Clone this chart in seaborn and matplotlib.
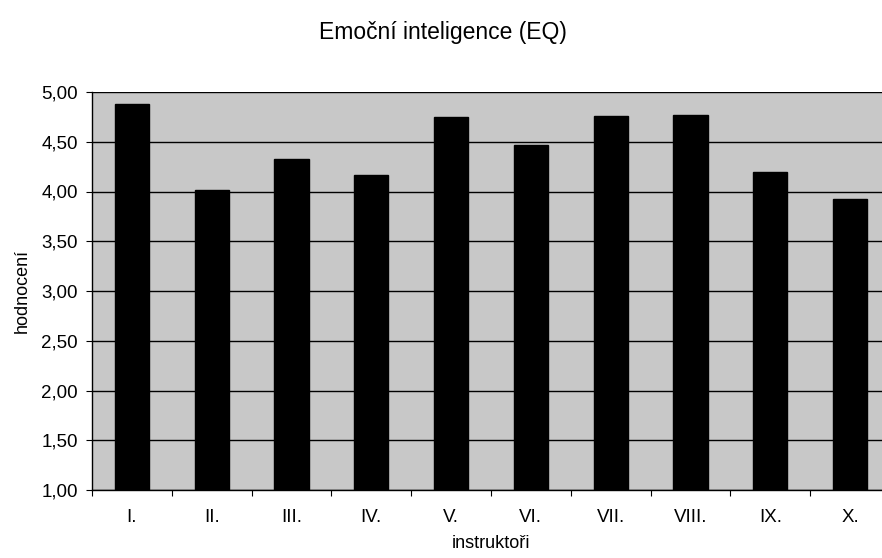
import matplotlib
matplotlib.use("Agg")
import matplotlib.pyplot as plt
import seaborn as sns
import pandas as pd
import numpy as np
from matplotlib.ticker import FixedLocator, FuncFormatter

# Hodnocení emoční inteligence jednotlivých instruktorů
instruktori = ["I.", "II.", "III.", "IV.", "V.", "VI.", "VII.", "VIII.", "IX.", "X."]
hodnoceni = [4.88, 4.02, 4.33, 4.17, 4.75, 4.47, 4.76, 4.77, 4.20, 3.92]
y_ticks = [1.0, 1.5, 2.0, 2.5, 3.0, 3.5, 4.0, 4.5, 5.0]

df = pd.DataFrame({"instruktor": instruktori, "hodnoceni": hodnoceni})

sns.set_theme(style="white")
plt.rcParams["font.family"] = ["Liberation Sans", "DejaVu Sans"]

fig = plt.figure(figsize=(8.82, 5.58), dpi=100)
ax = fig.add_axes([92 / 882, 1 - 490 / 558, 798 / 882, 398 / 558])
ax.set_facecolor("#c8c8c8")

sns.barplot(data=df, x="instruktor", y="hodnoceni", color="black",
            width=0.43, saturation=1, ax=ax, zorder=3)
for p in ax.patches:
    p.set_edgecolor("black")

ax.set_ylim(1.0, 5.0)
ax.set_xlim(-0.5, len(instruktori) - 0.5)
ax.yaxis.set_major_locator(FixedLocator(y_ticks))
ax.yaxis.set_major_formatter(FuncFormatter(lambda v, _: f"{v:.2f}".replace(".", ",")))
ax.grid(axis="y", color="black", linewidth=1.0, zorder=1)
ax.set_axisbelow(True)

# category boundary ticks on the x axis
ax.xaxis.set_minor_locator(FixedLocator(np.arange(-0.5, len(instruktori), 1.0)))
ax.tick_params(axis="x", which="major", length=0, pad=14, labelsize=13.5, colors="black")
ax.tick_params(axis="x", which="minor", length=4, width=0.8, direction="out", colors="black", bottom=True)
ax.tick_params(axis="y", which="major", length=4, width=0.8, direction="out", left=True,
               labelsize=13.5, colors="black", pad=6)

for side in ["left", "bottom"]:
    ax.spines[side].set_color("black")
    ax.spines[side].set_linewidth(1.0)
for side in ["top", "right"]:
    ax.spines[side].set_visible(False)

ax.set_xlabel("instruktoři", fontsize=13, color="black", labelpad=6)
ax.set_ylabel("hodnocení", fontsize=13, color="black", labelpad=8)
fig.text(443 / 882, 1 - 33 / 558, "Emoční inteligence (EQ)", ha="center", va="center",
         fontsize=16.5, color="black")

fig.savefig("out.png", dpi=100)
